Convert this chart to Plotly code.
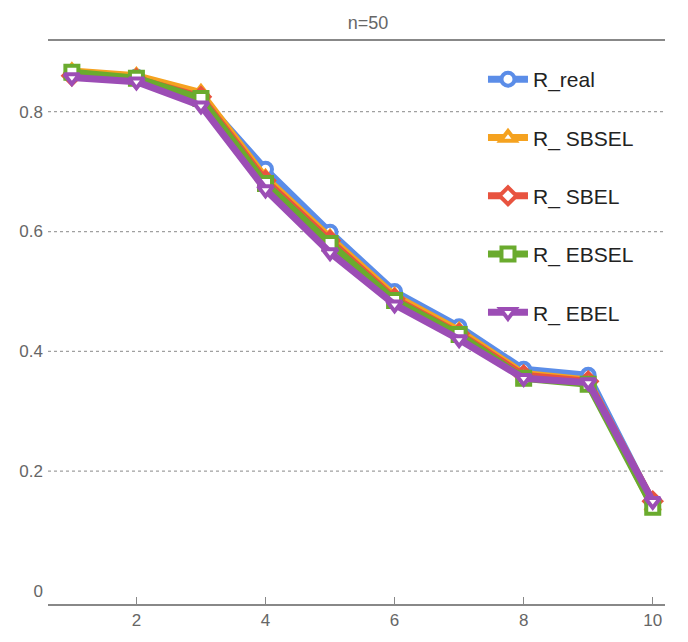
import plotly.graph_objects as go

# Sample index along the x axis
x_vals = [1, 2, 3, 4, 5, 6, 7, 8, 9, 10]

# Reliability estimates per method
r_real = [0.862, 0.858, 0.825, 0.704, 0.599, 0.500, 0.441, 0.370, 0.360, 0.148]
r_sbsel = [0.868, 0.860, 0.832, 0.690, 0.590, 0.493, 0.435, 0.363, 0.352, 0.140]
r_sbel = [0.860, 0.855, 0.825, 0.685, 0.585, 0.488, 0.430, 0.360, 0.350, 0.150]
r_ebsel = [0.866, 0.856, 0.822, 0.680, 0.580, 0.485, 0.428, 0.355, 0.345, 0.140]
r_ebel = [0.857, 0.850, 0.810, 0.670, 0.565, 0.478, 0.420, 0.355, 0.348, 0.150]

series_names = ["R_real", "R_ SBSEL", "R_ SBEL", "R_ EBSEL", "R_ EBEL"]
series_values = [r_real, r_sbsel, r_sbel, r_ebsel, r_ebel]
colors = ["#5b8de8", "#f5a21f", "#e8533f", "#6aab2e", "#9c4db5"]
symbols = ["circle", "triangle-up", "diamond", "square", "triangle-down"]

y_ticks = [0, 0.2, 0.4, 0.6, 0.8]
y_tick_text = ["0", "0.2", "0.4", "0.6", "0.8"]
grid_levels = [0.2, 0.4, 0.6, 0.8]
x_ticks = [2, 4, 6, 8, 10]

FONT = "Liberation Sans, Arial, sans-serif"

fig = go.Figure()

# dotted horizontal guides (none on the zero level)
for g in grid_levels:
    fig.add_shape(type="line", xref="paper", x0=0, x1=1, yref="y", y0=g, y1=g,
                  line=dict(color="#a0a0a0", width=1.2, dash="dot"), layer="below")

for name, vals, col, sym in zip(series_names, series_values, colors, symbols):
    fig.add_trace(go.Scatter(
        x=x_vals, y=vals, name=name, mode="lines+markers",
        legendgroup=name,
        line=dict(color=col, width=7),
        marker=dict(symbol=sym, size=13, color="white",
                    line=dict(color=col, width=4)),
    ))

fig.update_layout(
    width=688, height=642,
    margin=dict(l=48, r=23, t=41, b=35),
    paper_bgcolor="white", plot_bgcolor="white",
    font=dict(family=FONT, color="#555555"),
    title=dict(text="n=50", x=0.535, xanchor="center", y=0.975, yanchor="top",
               font=dict(size=18, color="#666666", family=FONT)),
    legend=dict(x=0.705, y=0.968, xanchor="left", yanchor="top",
                font=dict(size=21, color="#222222", family=FONT),
                tracegroupgap=28, itemwidth=40,
                bgcolor="rgba(0,0,0,0)"),
    showlegend=True,
)

fig.update_xaxes(
    range=[0.63, 10.19], tickvals=x_ticks,
    showgrid=False, zeroline=False,
    showline=True, linecolor="#888888", linewidth=2, mirror=True,
    ticks="inside", ticklen=7, tickwidth=1, tickcolor="#888888",
    tickfont=dict(size=17, color="#666666", family=FONT),
)
fig.update_yaxes(
    range=[-0.0216, 0.918], tickvals=y_ticks, ticktext=y_tick_text,
    showgrid=False, zeroline=False, showline=False, ticks="",
    ticklabelstandoff=4,
    tickfont=dict(size=17, color="#666666", family=FONT),
)

fig.write_html("out.html")
